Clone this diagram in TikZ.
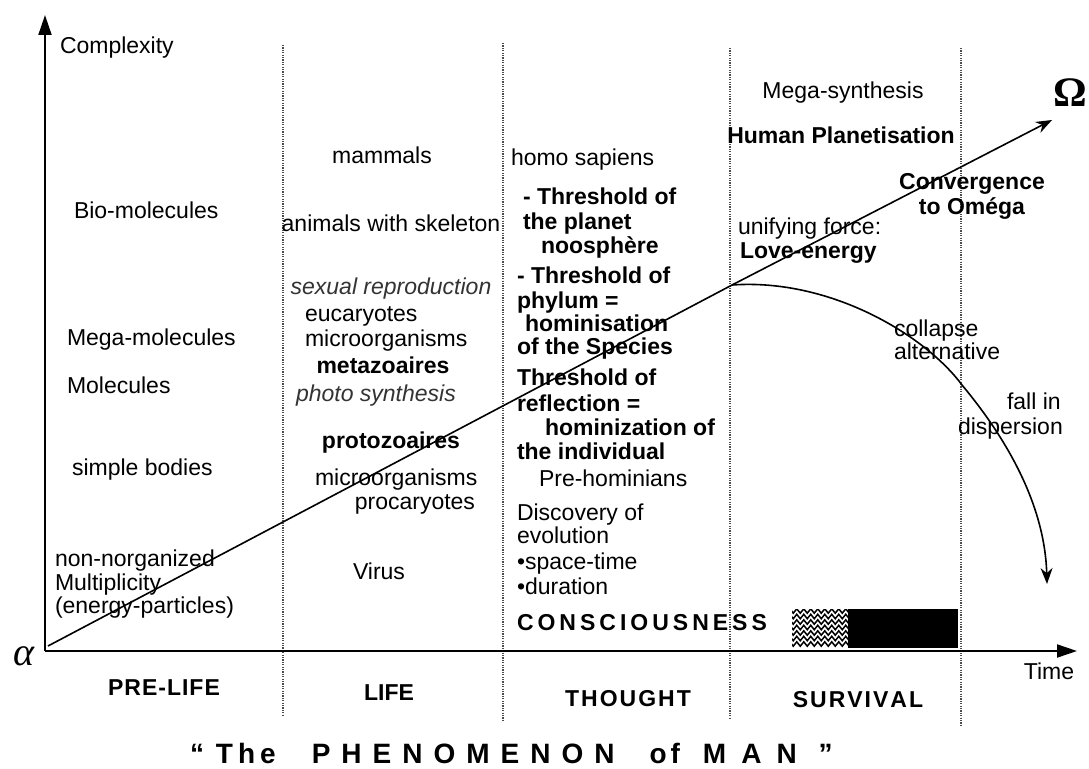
\documentclass[tikz,border=0pt]{standalone}
\usepackage{fontspec}
\setmainfont{Liberation Sans}
\newfontfamily\greekfont{Liberation Serif}
\usetikzlibrary{arrows.meta,decorations.pathmorphing}
\newcommand{\kk}[1]{\kern#1pt }
\begin{document}
\begin{tikzpicture}[x=1pt,y=-1pt,
  every node/.style={inner sep=0pt,outer sep=0pt},
  txt/.style={font=\fontsize{23}{25}\selectfont,text height=17pt,text depth=5pt},
  bt/.style={font=\fontsize{23}{25}\selectfont\bfseries,text height=17pt,text depth=5pt},
  itx/.style={font=\fontsize{23}{25}\selectfont\itshape,text height=17pt,text depth=5pt,text=black!80},
  lbl/.style={font=\fontsize{23}{25}\selectfont\bfseries},
  sepline/.style={dash pattern=on 1.2pt off 1.2pt,line width=2.6pt,black!70},
  axisline/.style={line width=2pt,-{Triangle[length=20pt,width=13pt]}},
  diag/.style={line width=1.6pt,-{Stealth[length=16pt,width=12pt]}},
  diagplain/.style={line width=1.6pt}
]
\useasboundingbox (0,0) rectangle (1089,768);
\fill[white] (0,0) rectangle (1089,768);

% coordinates
\coordinate (org) at (45,651);
\coordinate (ytop) at (45,15);
\coordinate (xend) at (1077,651);
\coordinate (dstart) at (48,646);
\coordinate (kink) at (732,285);
\coordinate (dend) at (1052,120);
\coordinate (cend) at (1047,584);
\coordinate (s1t) at (283,45);  \coordinate (s1b) at (283,715);
\coordinate (s2t) at (503,43);  \coordinate (s2b) at (503,720);
\coordinate (s3t) at (730,48);  \coordinate (s3b) at (730,718);
\coordinate (s4t) at (961,48);  \coordinate (s4b) at (961,725);

% separators
\draw[sepline] (s1t) -- (s1b);
\draw[sepline] (s2t) -- (s2b);
\draw[sepline] (s3t) -- (s3b);
\draw[sepline] (s4t) -- (s4b);

% axes
\draw[axisline] (org) -- (ytop);
\draw[axisline] (org) -- (xend);

% consciousness bar
\fill[black] (848,609) rectangle (958,648);
\begin{scope}
  \clip (792,609) rectangle (848,648);
  \foreach \yy in {611,616.5,...,648}
    \draw[line width=1.5pt,decorate,decoration={zigzag,segment length=7pt,amplitude=2.2pt}] (788,\yy) -- (852,\yy);
\end{scope}

% curves
\draw[diagplain] (dstart) -- (kink);
\draw[diag] (kink) -- (dend);
\draw[diag] (kink) .. controls (830,278) and (925,335) .. (962,385)
                   .. controls (1012,445) and (1045,510) .. (cend);

% axis labels
\node[font=\greekfont\itshape\fontsize{40}{40}\selectfont] (alpha) at (24,656) {α};
\node[font=\greekfont\bfseries\fontsize{42}{42}\selectfont] (omega) at (1070,93) {Ω};
\node[txt,anchor=west] (cplx) at (60,48) {Complexity};
\node[txt] (time) at (1049,673) {Time};

% PRE-LIFE column
\node[txt,anchor=west] (bio) at (74,212) {Bio-molecules};
\node[txt,anchor=west] (mega) at (67,339) {Mega-molecules};
\node[txt,anchor=west] (mol) at (67,387) {Molecules};
\node[txt,anchor=west] (simple) at (72,469) {simple bodies};
\node[txt,anchor=west] (nonorg) at (55,560) {non-norganized};
\node[txt,anchor=west] (multi) at (55,584) {Multiplicity};
\node[txt,anchor=west] (energy) at (55,607) {(energy-particles)};

% LIFE column
\node[txt] (mamm) at (382,157) {mammals};
\node[txt] (anim) at (391,225) {animals with skeleton};
\node[itx] (sexr) at (391,288) {sexual reproduction};
\node[txt,anchor=west] (euca) at (305,315) {eucaryotes};
\node[txt,anchor=west] (micro1) at (305,340) {microorganisms};
\node[bt] (meta) at (383,367) {metazoaires};
\node[itx,anchor=west] (photo) at (296,395) {photo synthesis};
\node[bt] (proto) at (391,442) {protozoaires};
\node[txt,anchor=west] (micro2) at (315,479) {microorganisms};
\node[txt,anchor=east] (proca) at (475,503) {procaryotes};
\node[txt] (virus) at (379,573) {Virus};

% THOUGHT column
\node[txt,anchor=west] (homo) at (511,159) {homo sapiens};
\node[bt,anchor=west] (th1a) at (523,198) {- Threshold of};
\node[bt,anchor=west] (th1b) at (523,223) {the planet};
\node[bt,anchor=west] (th1c) at (541,247) {noosphère};
\node[bt,anchor=west] (th2a) at (517,277) {- Threshold of};
\node[bt,anchor=west] (th2b) at (517,302) {phylum =};
\node[bt,anchor=west] (th2c) at (525,325) {hominisation};
\node[bt,anchor=west] (th2d) at (517,348) {of the Species};
\node[bt,anchor=west] (th3a) at (517,379) {Threshold of};
\node[bt,anchor=west] (th3b) at (517,405) {reflection =};
\node[bt,anchor=west] (th3c) at (545,429) {hominization of};
\node[bt,anchor=west] (th3d) at (517,453) {the individual};
\node[txt,anchor=west] (prehom) at (539,480) {Pre-hominians};
\node[txt,anchor=west] (disc1) at (517,514) {Discovery of};
\node[txt,anchor=west] (disc2) at (517,537) {evolution};
\node[txt,anchor=west] (disc3) at (517,563) {•space-time};
\node[txt,anchor=west] (disc4) at (517,588) {•duration};
\node[lbl,anchor=west] (consc) at (517,623) {C\kk{4}O\kk{4}N\kk{4}S\kk{4}C\kk{4}I\kk{4}O\kk{4}U\kk{4}S\kk{4}N\kk{4}E\kk{4}S\kk{4}S};

% SURVIVAL column
\node[txt] (msyn) at (843,92) {Mega-synthesis};
\node[bt] (hplan) at (841,137) {Human Planetisation};
\node[bt] (conv1) at (972,183) {Convergence};
\node[bt] (conv2) at (972,208) {to Oméga};
\node[txt,anchor=west] (unif) at (738,228) {unifying force:};
\node[bt,anchor=west] (love) at (740,252) {Love-energy};
\node[txt,anchor=west] (coll1) at (894,330) {collapse};
\node[txt,anchor=west] (coll2) at (894,353) {alternative};
\node[txt,anchor=west] (fall1) at (1007,403) {fall in};
\node[txt,anchor=west] (fall2) at (958,428) {dispersion};

% era labels
\node[lbl] (prelife) at (164,688) {P\kk{1}R\kk{1}E\kk{1}-\kk{1}L\kk{1}I\kk{1}F\kk{1}E};
\node[lbl] (life) at (389,693) {LIFE};
\node[lbl] (thought) at (628,699) {T\kk{2}H\kk{2}O\kk{2}U\kk{2}G\kk{2}H\kk{2}T};
\node[lbl] (surv) at (858,700) {S\kk{2}U\kk{2}R\kk{2}V\kk{2}I\kk{2}V\kk{2}A\kk{2}L};

% title
\node[anchor=west,font=\fontsize{28}{30}\selectfont\bfseries] (title) at (190,753)
  {“\kk{12}T\kk{5}h\kk{5}e\hspace{36pt}P\kk{11}H\kk{11}E\kk{11}N\kk{11}O\kk{11}M\kk{11}E\kk{11}N\kk{11}O\kk{11}N\hspace{35pt}o\kk{4}f\hspace{23pt}M\kk{15}A\kk{15}N\hspace{22pt}”};
\end{tikzpicture}
\end{document}
